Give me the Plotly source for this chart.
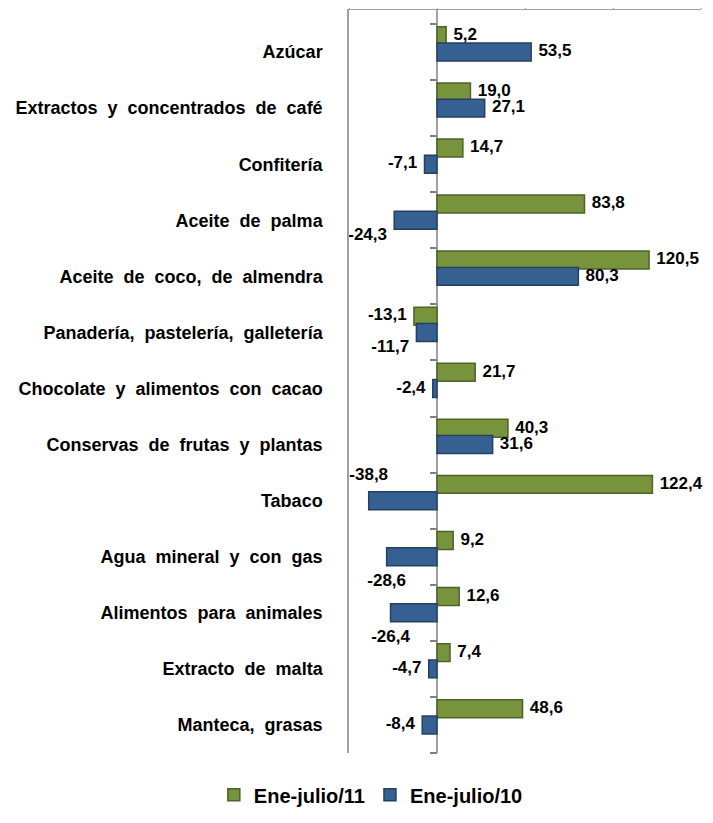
import plotly.graph_objects as go

categories = [
    "Azúcar",
    "Extractos  y  concentrados  de  café",
    "Confitería",
    "Aceite  de  palma",
    "Aceite  de  coco,  de  almendra",
    "Panadería,  pastelería,  galletería",
    "Chocolate  y  alimentos  con  cacao",
    "Conservas  de  frutas  y  plantas",
    "Tabaco",
    "Agua  mineral  y  con  gas",
    "Alimentos  para  animales",
    "Extracto  de  malta",
    "Manteca,  grasas",
]
ene_julio_11 = [5.2, 19.0, 14.7, 83.8, 120.5, -13.1, 21.7, 40.3, 122.4, 9.2, 12.6, 7.4, 48.6]
ene_julio_10 = [53.5, 27.1, -7.1, -24.3, 80.3, -11.7, -2.4, 31.6, -38.8, -28.6, -26.4, -4.7, -8.4]

# where each data label sits relative to its bar end (style, not data)
pos_11 = ["middle right"] * 13
pos_11[5] = "middle left"
pos_10 = ["middle right"] * 13
for i, p in {2: "middle left", 3: "bottom left", 5: "bottom left",
             6: "middle left", 8: "top center", 9: "bottom center",
             10: "bottom center", 11: "middle left", 12: "middle left"}.items():
    pos_10[i] = p

GREEN = "#77933C"
BLUE = "#376092"
FONT = "Arial, Liberation Sans, sans-serif"
x_min, x_max = -50, 150
BAR_W = 0.32

idx = list(range(len(categories)))


def label_y(i, off, pos):
    # centred labels sit on the bar's top/bottom edge, side labels on its middle
    if pos == "top center":
        return i + off
    if pos == "bottom center":
        return i + off + BAR_W
    return i + off + BAR_W / 2


fig = go.Figure()
# green bar sits a little above the blue one, like the 3-D Excel original
for name, vals, col, edge, off, pos in [
    ("Ene-julio/11", ene_julio_11, GREEN, "#4F6228", -0.45, pos_11),
    ("Ene-julio/10", ene_julio_10, BLUE, "#244061", -0.16, pos_10),
]:
    fig.add_trace(go.Bar(
        y=idx, x=vals, name=name, orientation="h",
        width=BAR_W, offset=off,
        marker=dict(color=col, line=dict(color=edge, width=1.5)),
        hoverinfo="x+name",
    ))
    fig.add_trace(go.Scatter(
        y=[label_y(i, off, p) for i, p in zip(idx, pos)], x=vals,
        mode="markers+text", marker=dict(size=10, opacity=0),
        text=[f"{v:.1f}".replace(".", ",") for v in vals],
        textposition=pos, cliponaxis=False, showlegend=False,
        hoverinfo="skip",
        textfont=dict(family=FONT, size=17, color="black", weight="bold"),
    ))

# invisible trace that carries the category tick marks drawn at zero
fig.add_trace(go.Scatter(y=idx, x=[0] * len(idx), yaxis="y2",
                         mode="markers", marker=dict(opacity=0),
                         showlegend=False, hoverinfo="skip"))

zero_pos = (0 - x_min) / (x_max - x_min)
y_range = [len(categories) - 0.5, -0.75]

fig.update_layout(
    width=705, height=815,
    margin=dict(l=341, r=12, t=2, b=70),
    paper_bgcolor="white", plot_bgcolor="white",
    font=dict(family=FONT, size=14, color="black"),
    xaxis=dict(range=[x_min, x_max], side="top", showticklabels=False,
               tickvals=[-50, 0, 50, 100, 150], ticks="outside", ticklen=5,
               tickcolor="#A0A0A0", showline=True, linecolor="#A0A0A0",
               showgrid=False, zeroline=True, zerolinecolor="#A0A0A0",
               zerolinewidth=1.5, automargin=False),
    yaxis=dict(range=y_range, tickvals=idx, ticktext=categories,
               showline=True, linecolor="#A0A0A0",
               linewidth=1.5, ticks="", showgrid=False, zeroline=False,
               automargin=False,
               tickfont=dict(family=FONT, size=18, color="black", weight="bold"),
               ticklabelstandoff=21),
    yaxis2=dict(overlaying="y", anchor="free", position=zero_pos,
                range=y_range, showticklabels=False, ticks="outside",
                tickvals=[i - 0.5 for i in idx] + [len(idx) - 0.5],
                ticklen=7, tickcolor="#808080", tickwidth=1.5,
                showline=False, showgrid=False, zeroline=False,
                automargin=False),
    legend=dict(orientation="h", x=0.062, xanchor="center", y=-0.03,
                yanchor="top",
                font=dict(family=FONT, size=20, color="black", weight="bold")),
)

fig.write_html("out.html")
